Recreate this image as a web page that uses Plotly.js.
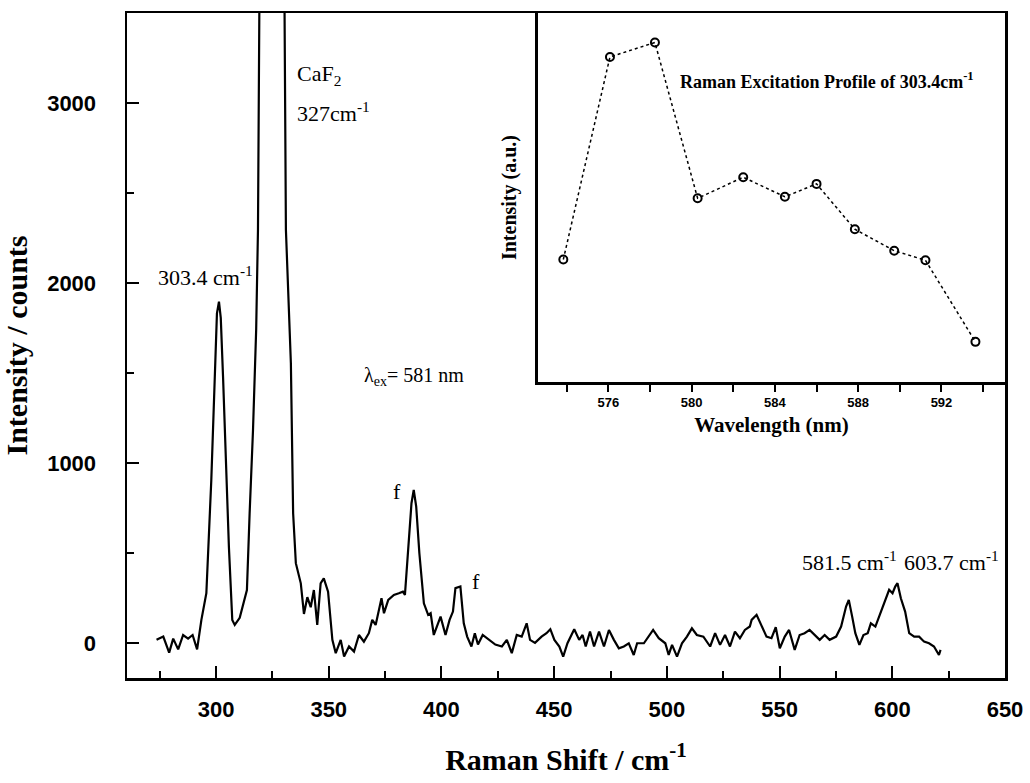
<!DOCTYPE html>
<html>
<head>
<meta charset="utf-8">
<script src="https://cdn.plot.ly/plotly-3.0.1.min.js"></script>
<style>html,body{margin:0;padding:0;background:#fff;}#chart{width:1030px;height:783px;}</style>
</head>
<body>
<div id="chart"></div>
<script>
// Main Raman spectrum (Raman shift in cm^-1, intensity in counts)
const ramanShift = [
273.6,276.6,279.2,281.0,283.2,285.4,287.6,289.6,291.6,293.5,295.7,297.9,299.4,300.4,301.3,302.1,303.1,304.3,305.7,307.2,
308.3,310.5,312.7,313.7,314.9,316.4,317.8,318.6,319.3,320.5,323.0,326.0,329.0,330.3,331.0,333.2,334.2,335.4,337.6,339.0,
340.5,342.0,343.4,344.9,346.4,347.8,349.7,351.6,353.1,355.3,356.8,359.0,361.2,363.4,365.6,367.8,369.3,370.8,373.4,374.5,
376.4,378.9,381.1,382.9,383.8,385.3,386.7,387.7,388.8,390.2,392.2,394.1,395.2,396.6,398.1,399.6,401.8,403.6,405.1,406.2,
408.4,409.9,411.4,413.3,414.8,416.2,418.3,420.9,423.9,426.8,429.0,431.2,433.4,435.6,437.8,439.3,441.5,444.4,446.6,448.3,
450.1,452.3,454.0,455.9,458.9,461.1,462.6,464.0,465.9,467.7,469.9,472.1,474.3,476.5,478.7,480.9,483.1,485.3,486.8,489.8,
492.0,493.9,496.4,499.3,500.8,502.3,504.5,506.7,508.9,511.1,513.3,516.2,519.2,521.4,523.6,525.8,528.0,530.2,532.4,534.6,
536.8,537.6,539.8,542.0,544.2,546.4,548.3,550.1,552.3,554.2,556.7,558.9,561.1,563.3,565.5,567.8,570.0,572.2,575.1,577.3,
579.5,580.7,582.2,583.6,585.4,587.2,589.1,590.5,592.5,594.2,595.7,597.2,598.6,600.1,601.3,602.3,603.8,605.7,607.5,609.7,
611.9,614.1,616.3,618.5,620.7,621.4
];
const intensity = [
17,35,-54,24,-36,44,24,44,-36,128,276,906,1461,1831,1896,1806,1481,998,535,128,
100,139,239,294,720,1183,1739,2294,3700,9000,14000,15000,9000,3700,2294,1554,720,443,331,161,
254,198,294,100,331,359,285,17,-57,17,-76,-20,-48,44,7,54,128,100,248,165,
239,267,276,285,267,554,776,850,757,498,220,156,165,44,91,146,44,128,174,304,
313,109,35,-20,54,-9,44,17,-9,-20,17,-57,44,35,109,17,0,35,54,76,
17,-20,-76,-2,76,17,44,-20,63,-20,63,-20,72,17,-30,-20,-2,-67,-2,-2,
35,72,26,-2,-67,-11,-76,-2,35,81,44,35,-20,54,-11,44,-20,63,26,72,
91,128,156,91,35,26,87,-30,35,72,-39,44,54,72,44,17,44,17,35,91,
202,239,146,54,-11,44,54,109,91,146,193,239,295,276,313,332,248,174,54,35,
35,7,-2,-20,-67,-39
];

// Inset: Raman excitation profile of the 303.4 cm^-1 band
const excWavelength = [573.84,576.08,578.24,580.29,582.48,584.48,586.0,587.84,589.73,591.23,593.63];
const excIntensity  = [0.332,0.881,0.920,0.498,0.555,0.502,0.537,0.414,0.356,0.330,0.109];

// Tick values
const xTickVals = [300,350,400,450,500,550,600,650];
const yTickVals = [0,1000,2000,3000];
const insetTickVals = [576,580,584,588,592];

const serif = 'Liberation Serif, Times New Roman, serif';
const sans = 'Liberation Sans, Arial, sans-serif';

const traces = [
  {
    x: ramanShift, y: intensity, type: 'scatter', mode: 'lines',
    line: {color: '#000', width: 2.2}, xaxis: 'x', yaxis: 'y', hoverinfo: 'skip'
  },
  {
    x: excWavelength, y: excIntensity, type: 'scatter', mode: 'lines+markers',
    line: {color: '#000', width: 1.5, dash: 'dot'},
    marker: {symbol: 'circle-open', size: 8, color: '#000', line: {color: '#000', width: 2}},
    xaxis: 'x2', yaxis: 'y2', hoverinfo: 'skip'
  }
];

const annFont = {family: serif, size: 22, color: '#000'};
const layout = {
  width: 1030, height: 783,
  margin: {l: 127, r: 25, t: 13, b: 105},
  paper_bgcolor: '#fff', plot_bgcolor: '#fff',
  showlegend: false,
  xaxis: {
    range: [260.5, 650], tickvals: xTickVals, ticks: 'inside', ticklen: 12, tickwidth: 2, tickcolor: '#000',
    minor: {dtick: 25, tick0: 0, ticks: 'inside', ticklen: 7, tickwidth: 2, tickcolor: '#000', showgrid: false},
    showline: true, linewidth: 2.5, linecolor: '#000', mirror: true,
    showgrid: false, zeroline: false,
    tickfont: {family: sans, size: 22, color: '#000', weight: 'bold'},
    ticklabelstandoff: 10,
    title: {text: 'Raman Shift / cm<sup>-1</sup>', font: {family: serif, size: 30, color: '#000', weight: 'bold'}, standoff: 28}
  },
  yaxis: {
    range: [-195, 3500], tickvals: yTickVals, ticks: 'inside', ticklen: 12, tickwidth: 2, tickcolor: '#000',
    minor: {dtick: 500, tick0: 0, ticks: 'inside', ticklen: 7, tickwidth: 2, tickcolor: '#000', showgrid: false},
    showline: true, linewidth: 2.5, linecolor: '#000', mirror: true,
    showgrid: false, zeroline: false,
    tickfont: {family: sans, size: 22, color: '#000', weight: 'bold'},
    ticklabelstandoff: 24,
    title: {text: 'Intensity / counts', font: {family: serif, size: 30, color: '#000', weight: 'bold'}, standoff: 12}
  },
  xaxis2: {
    domain: [0.468, 1], anchor: 'y2', range: [572.62, 595.05],
    tickvals: insetTickVals, ticks: 'outside', ticklen: 7, tickwidth: 2, tickcolor: '#000',
    minor: {dtick: 2, tick0: 574, ticks: 'outside', ticklen: 7, tickwidth: 2, tickcolor: '#000', showgrid: false},
    showline: true, linewidth: 2.5, linecolor: '#000',
    showgrid: false, zeroline: false,
    tickfont: {family: sans, size: 13, color: '#000', weight: 'bold'},
    title: {text: 'Wavelength (nm)', font: {family: serif, size: 21, color: '#000', weight: 'bold'}, standoff: 8}
  },
  yaxis2: {
    domain: [0.445, 1], anchor: 'x2', range: [0, 1],
    showticklabels: false, ticks: '',
    showline: true, linewidth: 2.5, linecolor: '#000',
    showgrid: false, zeroline: false,
    title: {text: 'Intensity (a.u.)', font: {family: serif, size: 20, color: '#000', weight: 'bold'}, standoff: 14}
  },
  annotations: [
    {xref: 'x', yref: 'y', x: 273.4, y: 2039, text: '303.4 cm<sup>-1</sup>', showarrow: false, xanchor: 'left', yanchor: 'middle', font: annFont},
    {xref: 'x', yref: 'y', x: 334.9, y: 3156, text: 'CaF<sub>2</sub>', showarrow: false, xanchor: 'left', yanchor: 'middle', font: annFont},
    {xref: 'x', yref: 'y', x: 334.9, y: 2950, text: '327cm<sup>-1</sup>', showarrow: false, xanchor: 'left', yanchor: 'middle', font: annFont},
    {xref: 'x', yref: 'y', x: 364.8, y: 1478, text: 'λ<sub>ex</sub>= 581 nm', showarrow: false, xanchor: 'left', yanchor: 'middle', font: {family: serif, size: 20, color: '#000'}},
    {xref: 'x', yref: 'y', x: 380.3, y: 839, text: 'f', showarrow: false, xanchor: 'center', yanchor: 'middle', font: annFont},
    {xref: 'x', yref: 'y', x: 415.3, y: 339, text: 'f', showarrow: false, xanchor: 'center', yanchor: 'middle', font: annFont},
    {xref: 'x', yref: 'y', x: 559.1, y: 456, text: '581.5 cm<sup>-1</sup>', showarrow: false, xanchor: 'left', yanchor: 'middle', font: annFont},
    {xref: 'x', yref: 'y', x: 604.4, y: 456, text: '603.7 cm<sup>-1</sup>', showarrow: false, xanchor: 'left', yanchor: 'middle', font: annFont},
    {xref: 'x2', yref: 'y2', x: 579.35, y: 0.818, text: 'Raman Excitation Profile of 303.4cm<sup>-1</sup>', showarrow: false, xanchor: 'left', yanchor: 'middle',
      font: {family: serif, size: 18, color: '#000', weight: 'bold'}}
  ]
};

Plotly.newPlot('chart', traces, layout, {displayModeBar: false, staticPlot: true});
</script>
</body>
</html>
